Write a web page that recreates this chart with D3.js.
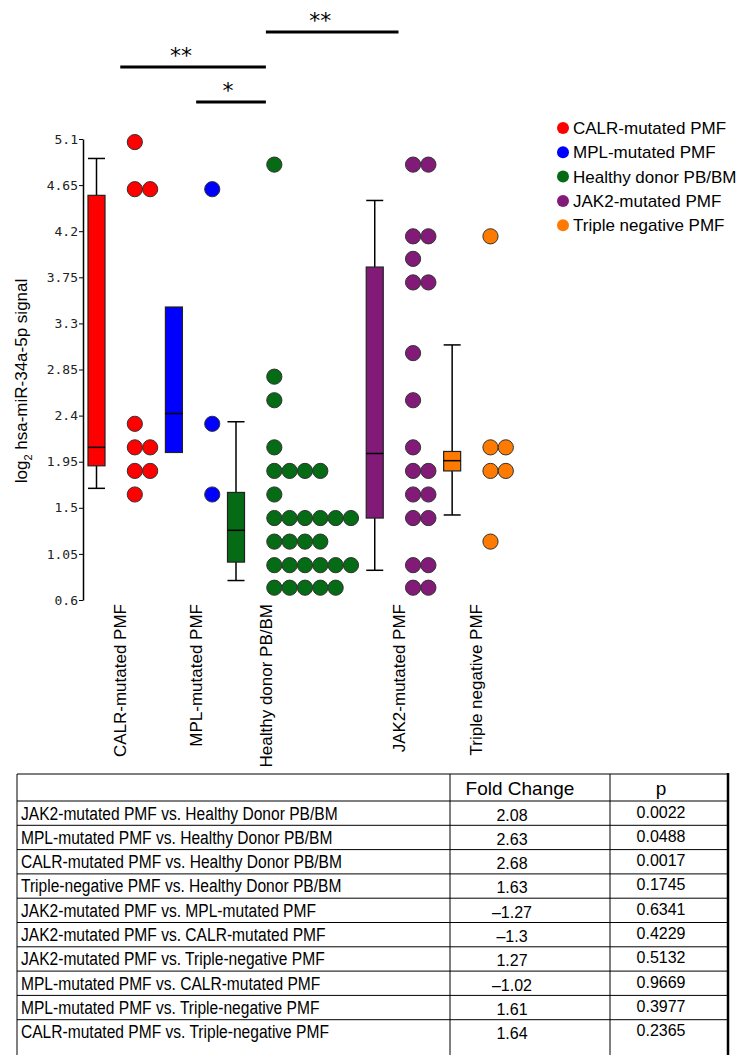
<!DOCTYPE html>
<html lang="en">
  <head>
    <meta charset="utf-8">
    <script src="https://cdn.jsdelivr.net/npm/d3@7/dist/d3.min.js"></script>
    <style>
      body { margin: 0; background: #fff; }
      svg { display: block; font-family: "Liberation Sans", Arial, sans-serif; }
      .tick text { font-family: "DejaVu Sans Mono", monospace; font-size: 13px; fill: #222; }
    </style>
  </head>
  <body>
    <svg width="742" height="1055"></svg>
    <script>
      // groups in plot order
      var categories = ["CALR-mutated PMF", "MPL-mutated PMF", "Healthy donor PB/BM",
                        "JAK2-mutated PMF", "Triple negative PMF"];

      // individual points (log2 signal)
      var calrValues = [5.07, 4.61, 4.61, 2.32, 2.09, 2.09, 1.86, 1.86, 1.63];
      var mplValues = [4.61, 2.32, 1.63];
      var healthyValues = [4.85, 2.78, 2.55, 2.09, 1.86, 1.86, 1.86, 1.86, 1.63,
                           1.40, 1.40, 1.40, 1.40, 1.40, 1.40, 1.17, 1.17, 1.17, 1.17,
                           0.94, 0.94, 0.94, 0.94, 0.94, 0.94, 0.72, 0.72, 0.72, 0.72, 0.72];
      var jak2Values = [4.85, 4.85, 4.15, 4.15, 3.93, 3.70, 3.70, 3.01, 2.55, 2.09,
                        1.86, 1.86, 1.63, 1.63, 1.40, 1.40, 0.94, 0.94, 0.72, 0.72];
      var tripleValues = [4.15, 2.09, 2.09, 1.86, 1.86, 1.17];

      // box plot summary per group
      var boxQ1 = [1.91, 2.04, 0.97, 1.40, 1.86];
      var boxMedian = [2.09, 2.42, 1.28, 2.03, 1.96];
      var boxQ3 = [4.55, 3.46, 1.65, 3.85, 2.05];
      var whiskerLow = [1.69, 2.04, 0.79, 0.89, 1.43];
      var whiskerHigh = [4.91, 3.46, 2.34, 4.50, 3.09];

      var yTicks = [0.6, 1.05, 1.5, 1.95, 2.4, 2.85, 3.3, 3.75, 4.2, 4.65, 5.1];

      // significance brackets (group index pairs)
      var sigPairs = [[2, 3], [0, 2], [1, 2]];
      var sigLabels = ["**", "**", "*"];

      // comparison table
      var comparisons = [
        "JAK2-mutated PMF vs. Healthy Donor PB/BM",
        "MPL-mutated PMF vs. Healthy Donor PB/BM",
        "CALR-mutated PMF vs. Healthy Donor PB/BM",
        "Triple-negative PMF vs. Healthy Donor PB/BM",
        "JAK2-mutated PMF vs. MPL-mutated PMF",
        "JAK2-mutated PMF vs. CALR-mutated PMF",
        "JAK2-mutated PMF vs. Triple-negative PMF",
        "MPL-mutated PMF vs. CALR-mutated PMF",
        "MPL-mutated PMF vs. Triple-negative PMF",
        "CALR-mutated PMF vs. Triple-negative PMF"
      ];
      var foldChanges = [2.08, 2.63, 2.68, 1.63, -1.27, -1.3, 1.27, -1.02, 1.61, 1.64];
      var pValues = [0.0022, 0.0488, 0.0017, 0.1745, 0.6341, 0.4229, 0.5132, 0.9669, 0.3977, 0.2365];

      var groupValues = [calrValues, mplValues, healthyValues, jak2Values, tripleValues];
      var fills = ["#ff0000", "#0000ff", "#056b14", "#821b78", "#ff7a00"];

      var svg = d3.select("svg");

      var y = d3.scaleLinear().domain([0.6, 5.1]).range([600, 139]);

      // bin the points: equal values sit side by side
      var bins = groupValues.map(function (vals) {
        return d3.rollups(vals, function (v) { return v.length; }, function (v) { return v; });
      });
      var maxCols = bins.map(function (b) { return d3.max(b, function (d) { return d[1]; }); });

      // horizontal layout in "dot" units, each group as wide as its widest row
      var pos = [];
      var u = 0;
      maxCols.forEach(function (c) { pos.push(u); u += 3.05 + c; });
      var x = d3.scaleLinear().domain([0, 1]).range([96.5, 111.83]);
      var dotStart = 2.5, boxHalf = 0.555;
      function labelX(i) { return x(pos[i] + 1.55 + 0.1 * (maxCols[i] - 2)); }

      // y axis
      var yAxis = svg.append("g")
        .attr("transform", "translate(83,0)")
        .call(d3.axisLeft(y).tickValues(yTicks).tickSize(4).tickSizeOuter(0)
          .tickFormat(function (d) { return d; }));
      yAxis.select(".domain").attr("stroke", "#000").attr("stroke-width", 1.5);
      yAxis.selectAll(".tick line").attr("stroke", "#000");
      yAxis.selectAll(".tick text").attr("x", -5).attr("font-family", null).attr("font-size", null);

      var yl = svg.append("text")
        .attr("transform", "translate(27,381) rotate(-90)")
        .attr("text-anchor", "middle")
        .attr("font-size", "17px");
      yl.append("tspan").text("log");
      yl.append("tspan").attr("font-size", "11px").attr("dy", 5).text("2");
      yl.append("tspan").attr("dy", -5).text(" hsa-miR-34a-5p signal");

      // boxes
      var boxes = svg.append("g").selectAll("g").data(categories).enter().append("g");
      boxes.each(function (c, i) {
        var g = d3.select(this);
        var cx = x(pos[i]);
        var hw = x(pos[i] + boxHalf) - cx;
        if (whiskerHigh[i] > boxQ3[i]) {
          g.append("line").attr("x1", cx).attr("x2", cx)
            .attr("y1", y(boxQ3[i])).attr("y2", y(whiskerHigh[i]))
            .attr("stroke", "#000").attr("stroke-width", 1.5);
          g.append("line").attr("x1", cx - hw).attr("x2", cx + hw)
            .attr("y1", y(whiskerHigh[i])).attr("y2", y(whiskerHigh[i]))
            .attr("stroke", "#000").attr("stroke-width", 1.5);
        }
        if (whiskerLow[i] < boxQ1[i]) {
          g.append("line").attr("x1", cx).attr("x2", cx)
            .attr("y1", y(boxQ1[i])).attr("y2", y(whiskerLow[i]))
            .attr("stroke", "#000").attr("stroke-width", 1.5);
          g.append("line").attr("x1", cx - hw).attr("x2", cx + hw)
            .attr("y1", y(whiskerLow[i])).attr("y2", y(whiskerLow[i]))
            .attr("stroke", "#000").attr("stroke-width", 1.5);
        }
        g.append("rect")
          .attr("x", cx - hw).attr("width", 2 * hw)
          .attr("y", y(boxQ3[i])).attr("height", y(boxQ1[i]) - y(boxQ3[i]))
          .attr("fill", fills[i]).attr("stroke", "#222").attr("stroke-width", 1.2);
        g.append("line").attr("x1", cx - hw).attr("x2", cx + hw)
          .attr("y1", y(boxMedian[i])).attr("y2", y(boxMedian[i]))
          .attr("stroke", "#000").attr("stroke-width", 1.5);
      });

      // dots
      bins.forEach(function (b, i) {
        var pts = [];
        b.forEach(function (d) {
          for (var k = 0; k < d[1]; k++) pts.push({ v: d[0], k: k });
        });
        svg.append("g").selectAll("circle").data(pts).enter().append("circle")
          .attr("cx", function (d) { return x(pos[i] + dotStart + d.k); })
          .attr("cy", function (d) { return y(d.v); })
          .attr("r", 7.6)
          .attr("fill", fills[i])
          .attr("stroke", "#333")
          .attr("stroke-width", 1);
      });

      // category labels
      svg.append("g").selectAll("text").data(categories).enter().append("text")
        .attr("transform", function (d, i) {
          return "translate(" + (labelX(i) + 6) + ",604) rotate(-90)";
        })
        .attr("text-anchor", "end")
        .attr("font-size", "17px")
        .text(function (d) { return d; });

      // significance brackets
      sigPairs.forEach(function (p, j) {
        var x1 = labelX(p[0]), x2 = labelX(p[1]);
        var by = 32 + j * 35;
        svg.append("line").attr("x1", x1).attr("x2", x2).attr("y1", by).attr("y2", by)
          .attr("stroke", "#000").attr("stroke-width", 3);
        svg.append("text")
          .attr("x", (x1 + x2) / 2 - 3 - 9 * (sigLabels[j].length - 1))
          .attr("y", by - 4)
          .attr("text-anchor", "middle")
          .attr("font-family", "DejaVu Sans")
          .attr("font-size", "22px")
          .text(sigLabels[j]);
      });

      // legend
      var legend = svg.append("g").attr("transform", "translate(563,128)");
      categories.forEach(function (c, i) {
        legend.append("circle").attr("cx", 0).attr("cy", i * 24.3).attr("r", 6).attr("fill", fills[i]);
        legend.append("text").attr("x", 10).attr("y", i * 24.3 + 6)
          .attr("font-size", "17px").text(c);
      });

      // table (runs off the bottom of the page, so no closing rule)
      var tLeft = 17, tRight = 728, c1 = 450, c2 = 610;
      var tTop = 774, headH = 27, rowH = 24.3;
      var tBottom = 1056;
      var table = svg.append("g");
      table.append("line").attr("x1", tLeft).attr("x2", tRight).attr("y1", tTop).attr("y2", tTop)
        .attr("stroke", "#000");
      d3.range(comparisons.length).forEach(function (r) {
        var ly = tTop + headH + r * rowH;
        table.append("line").attr("x1", tLeft).attr("x2", tRight).attr("y1", ly).attr("y2", ly)
          .attr("stroke", "#000");
      });
      [tLeft, c1, c2].forEach(function (cx) {
        table.append("line").attr("x1", cx).attr("x2", cx).attr("y1", tTop).attr("y2", tBottom)
          .attr("stroke", "#000");
      });
      table.append("line").attr("x1", tRight).attr("x2", tRight).attr("y1", tTop - 1).attr("y2", tBottom)
        .attr("stroke", "#000").attr("stroke-width", 2.5);

      table.append("text").attr("x", 520).attr("y", tTop + 21).attr("text-anchor", "middle")
        .attr("font-size", "19px").text("Fold Change");
      table.append("text").attr("x", 661).attr("y", tTop + 21).attr("text-anchor", "middle")
        .attr("font-size", "19px").text("p");

      comparisons.forEach(function (c, r) {
        var ty = tTop + headH + r * rowH + 18.5;
        table.append("text")
          .attr("transform", "translate(21," + ty + ") scale(0.82,1)")
          .attr("font-size", "19px").text(c);
        table.append("text").attr("x", 512).attr("y", ty + 1).attr("text-anchor", "middle")
          .attr("font-size", "16px")
          .text(String(foldChanges[r]).replace("-", "\u2013"));
        table.append("text").attr("x", 661).attr("y", ty - 2).attr("text-anchor", "middle")
          .attr("font-size", "16px")
          .text(pValues[r].toFixed(4));
      });
    </script>
  </body>
</html>
